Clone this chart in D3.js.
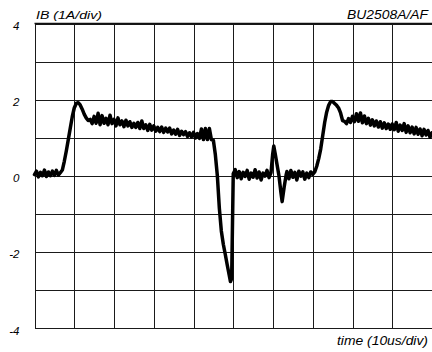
<!DOCTYPE html>
<html>
<head>
<meta charset="utf-8">
<script src="https://cdn.jsdelivr.net/npm/d3@7"></script>
<style>
  html, body { margin: 0; padding: 0; background: #fff; }
  svg { display: block; }
  text { font-family: "Liberation Sans", Arial, Helvetica, sans-serif; font-style: italic; fill: #000; }
</style>
</head>
<body>
<svg id="chart" width="432" height="352"></svg>
<script>
// ---- data (time in us, base current IB in A) ----
const timeUs = [
  0, 0.5, 1, 1.5, 2, 2.5, 3, 3.5, 4, 4.5, 5, 5.5, 6, 6.5,
  7, 7.5, 8, 8.5, 9, 9.5, 10, 10.5, 11, 11.5, 12, 12.5, 13, 13.5,
  14, 14.5, 15, 15.5, 16, 16.5, 17, 17.5, 18, 18.5, 19, 19.5, 20, 20.5, 21, 21.5, 22, 22.5,
  23, 23.5, 24, 24.5, 25, 25.5, 26, 26.5, 27, 27.5, 28, 28.5, 29, 29.5, 30, 30.5, 31, 31.5,
  32, 32.5, 33, 33.5, 34, 34.5, 35, 35.5, 36, 36.5, 37, 37.5, 38, 38.5, 39, 39.5, 40, 40.5,
  41, 41.5, 42, 42.5, 43, 43.5, 44, 44.5,
  45, 45.5, 46, 46.5, 47, 47.5, 48, 48.5, 49, 49.3, 49.6, 50,
  50.5, 51, 51.5, 52, 52.5, 53, 53.5, 54, 54.5, 55, 55.5, 56, 56.5, 57, 57.5, 58, 58.5, 59, 59.5,
  59.9, 60.2, 60.6, 61, 61.5, 62, 62.3, 62.8, 63.3,
  63.5, 64, 64.5, 65, 65.5, 66, 66.5, 67, 67.5, 68, 68.5, 69, 69.5, 70,
  70.5, 71, 71.5, 72, 72.5, 73, 73.5, 74, 74.5, 75, 75.5, 76, 76.5, 77, 77.5,
  78, 78.5, 79, 79.5, 80, 80.5, 81, 81.5, 82, 82.5, 83, 83.5, 84, 84.5, 85, 85.5, 86, 86.5,
  87, 87.5, 88, 88.5, 89, 89.5, 90, 90.5, 91, 91.5, 92, 92.5, 93, 93.5, 94, 94.5, 95, 95.5,
  96, 96.5, 97, 97.5, 98, 98.5, 99, 99.5, 100
];
const currentA = [
  0.03, 0.12, -0.03, 0.09, 0.00, 0.15, -0.02, 0.10, 0.00, 0.12, 0.01, 0.14, 0.02, 0.08,
  0.15, 0.38, 0.65, 0.95, 1.25, 1.55, 1.78, 1.90, 1.92, 1.86, 1.75, 1.62, 1.52, 1.45,
  1.48, 1.37, 1.56, 1.38, 1.64, 1.34, 1.58, 1.38, 1.51, 1.34, 1.59, 1.37, 1.48, 1.31, 1.52, 1.34, 1.44, 1.29,
  1.46, 1.31, 1.42, 1.27, 1.38, 1.27, 1.40, 1.24, 1.44, 1.24, 1.34, 1.19, 1.35, 1.20, 1.31, 1.17, 1.27, 1.16,
  1.28, 1.14, 1.25, 1.15, 1.25, 1.10, 1.20, 1.09, 1.22, 1.06, 1.17, 1.08, 1.16, 1.03, 1.13, 1.02, 1.14, 0.99,
  1.11, 0.98, 1.23, 0.95, 1.24, 0.95, 1.24, 0.95,
  0.93, 0.55, 0.00, -0.85, -1.45, -1.80, -2.07, -2.35, -2.62, -2.78, -2.70, 0.05,
  0.16, -0.05, 0.11, -0.08, 0.09, -0.02, 0.14, -0.09, 0.07, -0.04, 0.16, -0.06, 0.10, -0.11, 0.07, -0.01, 0.14, -0.05, 0.08,
  0.55, 0.78, 0.55, 0.30, 0.00, -0.45, -0.68, -0.30, 0.02,
  0.11, -0.08, 0.14, -0.04, 0.09, -0.11, 0.12, -0.01, 0.10, -0.09, 0.07, -0.05, 0.10, 0.04,
  0.10, 0.25, 0.45, 0.70, 1.05, 1.40, 1.67, 1.85, 1.95, 1.95, 1.90, 1.85, 1.78, 1.65, 1.45,
  1.43, 1.37, 1.50, 1.40, 1.56, 1.42, 1.63, 1.43, 1.65, 1.39, 1.57, 1.37, 1.51, 1.33, 1.47, 1.31, 1.44, 1.28,
  1.42, 1.25, 1.39, 1.24, 1.36, 1.22, 1.36, 1.21, 1.40, 1.17, 1.33, 1.19, 1.37, 1.14, 1.31, 1.13, 1.28, 1.10,
  1.27, 1.09, 1.23, 1.05, 1.22, 1.07, 1.19, 1.01, 1.13
];
const yTickValues = [4, 2, 0, -2, -4];
const yGridValues = [4, 3, 2, 1, 0, -1, -2, -3, -4];
const xGridValues = [0, 10, 20, 30, 40, 50, 60, 70, 80, 90];
const yTitle = "IB (1A/div)";
const xTitle = "time (10us/div)";
const deviceLabel = "BU2508A/AF";

// ---- layout ----
const svg = d3.select("#chart");
const plotL = 34.5, plotR = 432, plotT = 23.5, plotB = 328;
const x = d3.scaleLinear().domain([0, 100]).range([plotL, plotR]);
const y = d3.scaleLinear().domain([-4, 4]).range([plotB, plotT]);

// horizontal grid
const yGrid = svg.append("g")
  .attr("transform", `translate(${plotL},0)`)
  .call(d3.axisLeft(y).tickValues(yGridValues).tickSize(-(plotR - plotL)).tickFormat(""));
yGrid.select(".domain").remove();
yGrid.selectAll(".tick line").attr("stroke", "#1a1a1a").attr("stroke-width", 1)
  .attr("shape-rendering", "crispEdges");

// vertical grid
const xGrid = svg.append("g")
  .attr("transform", `translate(0,${plotB})`)
  .call(d3.axisBottom(x).tickValues(xGridValues).tickSize(-(plotB - plotT)).tickFormat(""));
xGrid.select(".domain").remove();
xGrid.selectAll(".tick line").attr("stroke", "#1a1a1a").attr("stroke-width", 1)
  .attr("shape-rendering", "crispEdges");

// heavier top border
svg.append("line")
  .attr("x1", plotL).attr("x2", plotR)
  .attr("y1", y(4)).attr("y2", y(4))
  .attr("stroke", "#111").attr("stroke-width", 1.6);

// y tick labels
const yAxis = svg.append("g")
  .attr("transform", `translate(${plotL},0)`)
  .call(d3.axisLeft(y).tickValues(yTickValues).tickSize(0).tickPadding(15)
    .tickFormat(d => String(d)));
yAxis.select(".domain").remove();
yAxis.selectAll("text")
  .attr("dy", "6")
  .attr("font-family", "'Liberation Sans', Arial, sans-serif")
  .attr("font-size", 11.5)
  .attr("font-style", "italic")
  .attr("fill", "#000");

// trace
const pts = timeUs.map((t, i) => [t, currentA[i]]);
svg.append("path")
  .datum(pts)
  .attr("fill", "none")
  .attr("stroke", "#000")
  .attr("stroke-width", 3.5)
  .attr("stroke-linejoin", "round")
  .attr("stroke-linecap", "round")
  .attr("d", d3.line().x(d => x(d[0])).y(d => y(d[1])));

// titles
svg.append("text").attr("x", 36).attr("y", 18.5)
  .attr("font-size", 11.5).attr("textLength", 66).attr("lengthAdjust", "spacingAndGlyphs")
  .text(yTitle);
svg.append("text").attr("x", 347).attr("y", 19)
  .attr("font-size", 12.5).attr("textLength", 81).attr("lengthAdjust", "spacingAndGlyphs")
  .text(deviceLabel);
svg.append("text").attr("x", 337).attr("y", 345)
  .attr("font-size", 12).attr("textLength", 91).attr("lengthAdjust", "spacingAndGlyphs")
  .text(xTitle);
</script>
</body>
</html>
